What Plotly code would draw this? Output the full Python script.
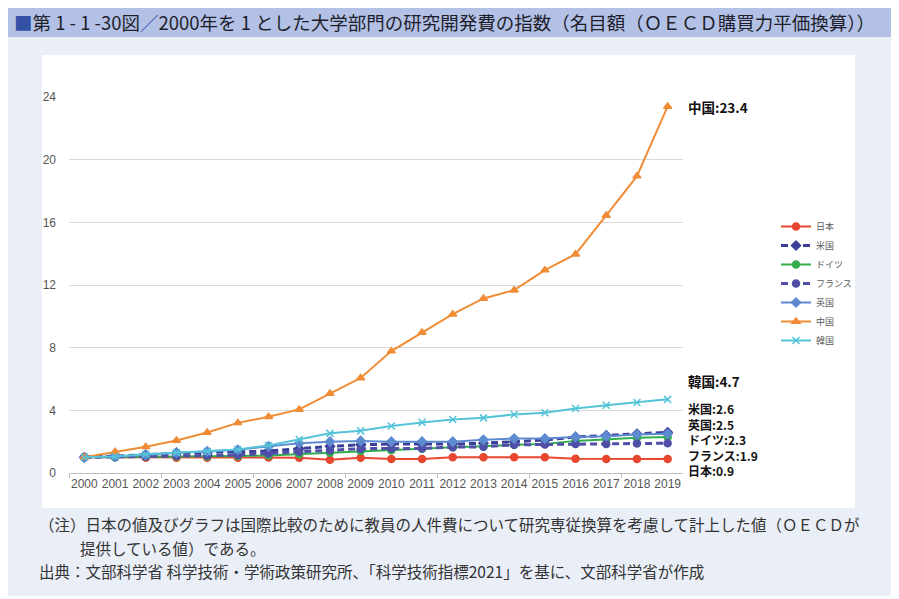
import plotly.graph_objects as go

years = list(range(2000, 2020))

japan = [1.0, 1.0, 0.98, 0.98, 0.97, 0.97, 0.99, 0.98, 0.85, 0.97,
         0.9, 0.9, 1.0, 1.0, 1.0, 1.0, 0.91, 0.9, 0.9, 0.9]
usa = [1.0, 1.08, 1.18, 1.28, 1.33, 1.35, 1.4, 1.55, 1.7, 1.8,
       1.85, 1.85, 1.85, 1.9, 2.0, 2.1, 2.3, 2.4, 2.5, 2.6]
germany = [1.0, 1.0, 1.03, 1.05, 1.05, 1.08, 1.12, 1.2, 1.3, 1.4,
           1.46, 1.55, 1.65, 1.7, 1.8, 1.85, 2.05, 2.15, 2.25, 2.3]
france = [1.0, 1.02, 1.05, 1.1, 1.12, 1.15, 1.25, 1.35, 1.45, 1.55,
          1.57, 1.57, 1.65, 1.67, 1.8, 1.82, 1.85, 1.85, 1.88, 1.9]
uk = [1.0, 1.05, 1.15, 1.3, 1.38, 1.48, 1.7, 1.9, 2.0, 2.05,
      2.0, 2.0, 2.0, 2.12, 2.2, 2.2, 2.3, 2.35, 2.45, 2.5]
china = [1.0, 1.35, 1.67, 2.08, 2.59, 3.2, 3.59, 4.06, 5.08, 6.07,
         7.78, 8.97, 10.14, 11.14, 11.67, 12.95, 13.97, 16.44, 18.95, 23.4]
korea = [1.0, 1.05, 1.2, 1.3, 1.38, 1.5, 1.76, 2.14, 2.53, 2.69,
         3.0, 3.23, 3.42, 3.52, 3.74, 3.84, 4.12, 4.33, 4.5, 4.7]

names = ["日本", "米国", "ドイツ", "フランス", "英国", "中国", "韓国"]
top_labels = ["中国:23.4", "韓国:4.7"]
stack_labels = ["米国:2.6", "英国:2.5", "ドイツ:2.3", "フランス:1.9", "日本:0.9"]

y_ticks = [0, 4, 8, 12, 16, 20, 24]

series = [japan, usa, germany, france, uk, china, korea]
colors = ["#E8472F", "#3A3F98", "#33AE4F", "#4F4FA8", "#5E8BCF", "#F08C36", "#55C4D9"]
dashes = ["solid", "dash", "solid", "dash", "solid", "solid", "solid"]
symbols = ["circle", "diamond", "circle", "circle", "diamond", "triangle-up", "x-thin"]

# the page has an 8px body margin, so work in reference pixels and shift
OFF = 8
W, H = 899 - OFF, 599 - OFF
L, R, T, B = 69, 683, 97, 473


def px(x):
    return (x - L) / (R - L)


def py(y):
    return (B - y) / (B - T)


fig = go.Figure()

for name, vals, c, d, s in zip(names, series, colors, dashes, symbols):
    fig.add_trace(go.Scatter(
        x=years, y=vals, name=name, mode="lines+markers",
        line=dict(color=c, width=3 if d == "dash" else 2, dash="7px,4px" if d == "dash" else None),
        marker=dict(symbol=s, size=7, color=c, line=dict(color=c, width=1.5)),
        cliponaxis=False,
    ))

label_font = dict(size=13.5, color="#111111", family="Noto Sans CJK JP")
for text, ly in zip(top_labels, [107, 381]):
    fig.add_annotation(x=px(686), y=py(ly), xref="paper", yref="paper", text="<b>" + text + "</b>",
                       showarrow=False, xanchor="left", yanchor="middle", font=label_font)

# one block so the tightly stacked labels keep their spacing
fig.add_annotation(x=px(686), y=py(439), xref="paper", yref="paper",
                   text="<br>".join("<b>" + t + "</b>" for t in stack_labels),
                   showarrow=False, xanchor="left", yanchor="middle", align="left",
                   font=dict(size=12, color="#111111", family="Noto Sans CJK JP"))

shapes = [
    # outer panel
    dict(type="rect", xref="paper", yref="paper", x0=px(0), x1=px(892), y0=py(596), y1=py(0),
         fillcolor="#E9EEF7", line=dict(width=0), layer="below"),
    # title bar
    dict(type="rect", xref="paper", yref="paper", x0=px(0), x1=px(892), y0=py(37), y1=py(0),
         fillcolor="#B3C1E6", line=dict(width=0), layer="below"),
    # white chart box
    dict(type="rect", xref="paper", yref="paper", x0=px(42), x1=px(855), y0=py(508), y1=py(55),
         fillcolor="#FFFFFF", line=dict(width=0), layer="below"),
]

title = ("<span style='color:#3451A5'>■</span>第 1 - 1 -30図<span style='color:#3451A5'>／</span>"
         "2000年を 1 とした大学部門の研究開発費の指数（名目額（ＯＥＣＤ購買力平価換算））")
fig.add_annotation(x=px(12), y=py(22), xref="paper", yref="paper", text=title, showarrow=False,
                   xanchor="left", yanchor="middle",
                   font=dict(size=18.5, color="#1E1E2A", family="Noto Sans CJK JP"))

notes = [
    (37, 524, "（注）日本の値及びグラフは国際比較のために教員の人件費について研究専従換算を考慮して計上した値（ＯＥＣＤが"),
    (78, 548, "提供している値）である。"),
    (37, 571, "出典：文部科学省 科学技術・学術政策研究所、「科学技術指標2021」を基に、文部科学省が作成"),
]
for x0, y0, t in notes:
    fig.add_annotation(x=px(x0), y=py(y0), xref="paper", yref="paper", text=t, showarrow=False,
                       xanchor="left", yanchor="middle",
                       font=dict(size=15.5, color="#333333", family="Noto Sans CJK JP"))

fig.update_layout(
    width=W, height=H,
    margin=dict(l=L - OFF, r=W - (R - OFF), t=T - OFF, b=H - (B - OFF)),
    paper_bgcolor="#FFFFFF", plot_bgcolor="#FFFFFF",
    shapes=shapes,
    showlegend=True,
    legend=dict(x=px(776), y=py(212), xanchor="left", yanchor="top", bgcolor="rgba(0,0,0,0)",
                font=dict(size=9, color="#595959", family="Noto Sans CJK JP"),
                itemwidth=30, tracegroupgap=0),
    font=dict(family="Liberation Sans", color="#595959"),
)

fig.update_xaxes(
    range=[1999.5, 2019.5], tickmode="array", tickvals=years, ticktext=[str(y) for y in years],
    showgrid=False, zeroline=False, showline=True, linecolor="#BFBFBF", linewidth=1,
    ticks="", tickfont=dict(size=12, color="#555555"),
    minor=dict(tickmode="array", tickvals=[1999.5, 2002.5, 2005.5, 2008.5, 2011.5, 2014.5, 2017.5],
               ticks="outside", ticklen=4, tickcolor="#BFBFBF", showgrid=False),
)
fig.update_yaxes(
    range=[0, 24], tickmode="array", tickvals=y_ticks, showgrid=True, gridcolor="#D9D9D9",
    gridwidth=1, zeroline=False, showline=False, ticks="", ticklabelstandoff=12,
    tickfont=dict(size=12, color="#555555"),
)

fig.write_html("out.html")
